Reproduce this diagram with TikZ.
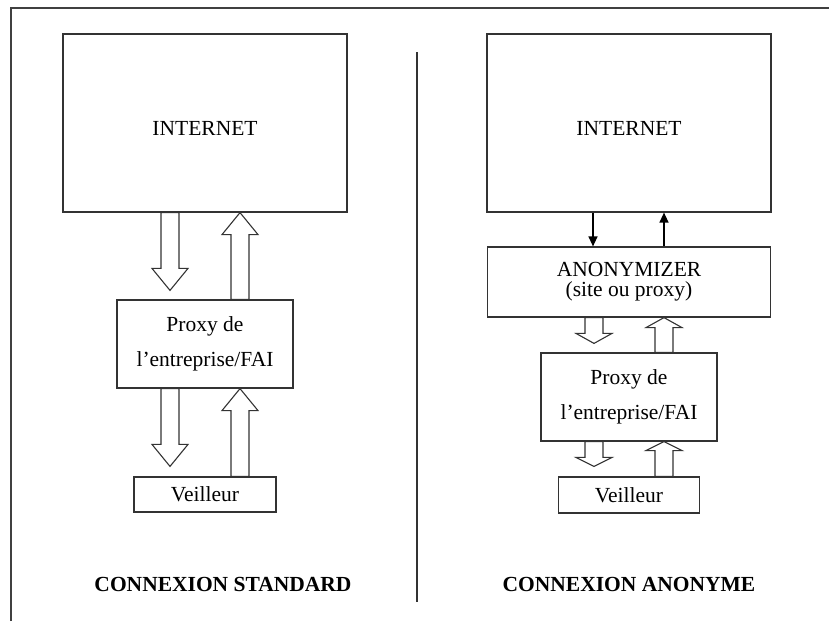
\documentclass[tikz,border=0pt]{standalone}
\usepackage{fontspec}
\setmainfont{Liberation Serif}
\usetikzlibrary{calc,arrows.meta}
\newcommand{\hollowarrow}[5]{% #1 start, #2 end, #3 shaft half-width, #4 head half-width, #5 head length
  \draw[hollow] let \p1=(#1), \p2=(#2), \n1={sign(\y2-\y1)} in
    (\x1-#3,\y1) -- (\x1-#3,\y2-\n1*#5) -- (\x1-#4,\y2-\n1*#5) -- (\x1,\y2)
    -- (\x1+#4,\y2-\n1*#5) -- (\x1+#3,\y2-\n1*#5) -- (\x1+#3,\y1) -- cycle;}
\tikzset{
  box/.style={draw=black!80, line width=1.2pt, inner sep=0pt, align=center,
    font=\fontsize{21.5}{24}\selectfont},
  netbox/.style={box, minimum width=284pt, minimum height=178pt,
    text height=24pt, text depth=0pt},
  hollow/.style={draw=black!80, line width=1.1pt, fill=white, line join=miter},
  thin/.style={draw=black, line width=1.3pt, -{Triangle[length=10pt,width=9pt]}},
  title/.style={font=\fontsize{21.5}{24}\selectfont\bfseries, inner sep=0pt},
  frame/.style={draw=black!75, line width=1.6pt}
}
\begin{document}
\begin{tikzpicture}[x=1pt,y=-1pt]
\useasboundingbox (0,0) rectangle (829,621);
% frame and divider
\coordinate (ftl) at (11,8);
\coordinate (ftr) at (829,8);
\coordinate (fbl) at (11,621);
\draw[frame] (fbl) -- (ftl) -- (ftr);
\coordinate (dtop) at (417,52);
\coordinate (dbot) at (417,602);
\draw[draw=black!80, line width=1.2pt] (dtop) -- (dbot);
% left column
\node[netbox] (inetL) at (205,123) {INTERNET};
\node[box, minimum width=176pt, minimum height=88pt] (proxyL) at (205,344)
  {Proxy de\\[11pt]l’entreprise/FAI};
\node[box, minimum width=142pt, minimum height=35pt] (veilL) at (205,494.5) {Veilleur};
\hollowarrow{[xshift=-35pt]inetL.south}{[xshift=-35pt,yshift=9pt]proxyL.north}{9pt}{18pt}{22pt}
\hollowarrow{[xshift=35pt]proxyL.north}{[xshift=35pt]inetL.south}{9pt}{18pt}{22pt}
\hollowarrow{[xshift=-35pt]proxyL.south}{[xshift=-35pt,yshift=10pt]veilL.north}{9pt}{18pt}{22pt}
\hollowarrow{[xshift=35pt]veilL.north}{[xshift=35pt]proxyL.south}{9pt}{18pt}{22pt}
\node[title] (tL) at (223,584) {CONNEXION STANDARD};
% right column
\node[netbox] (inetR) at (629,123) {INTERNET};
\node[box, minimum width=283pt, minimum height=70pt] (anon) at (629,282)
  {ANONYMIZER\\[-4pt](site ou proxy)};
\node[box, minimum width=176pt, minimum height=88pt] (proxyR) at (629,397)
  {Proxy de\\[11pt]l’entreprise/FAI};
\node[box, minimum width=141pt, minimum height=36pt] (veilR) at (629,495) {Veilleur};
\draw[thin] ([xshift=-36pt]inetR.south) -- ([xshift=-36pt]anon.north);
\draw[thin] ([xshift=35pt]anon.north) -- ([xshift=35pt]inetR.south);
\hollowarrow{[xshift=-35pt]anon.south}{[xshift=-35pt,yshift=9pt]proxyR.north}{9pt}{18pt}{10pt}
\hollowarrow{[xshift=35pt]proxyR.north}{[xshift=35pt]anon.south}{9pt}{18pt}{10pt}
\hollowarrow{[xshift=-35pt]proxyR.south}{[xshift=-35pt,yshift=10pt]veilR.north}{9pt}{18pt}{9pt}
\hollowarrow{[xshift=35pt]veilR.north}{[xshift=35pt]proxyR.south}{9pt}{18pt}{9pt}
\node[title] (tR) at (629,584) {CONNEXION ANONYME};
\end{tikzpicture}
\end{document}
